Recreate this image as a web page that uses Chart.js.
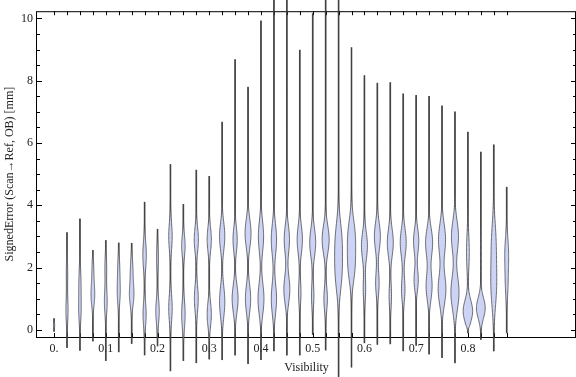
<!DOCTYPE html>
<html>
<head>
<meta charset="utf-8">
<script src="https://cdn.jsdelivr.net/npm/chart.js@4.4.1/dist/chart.umd.min.js"></script>
<style>
  html, body { margin: 0; padding: 0; background: #fff; }
  #wrap { width: 576px; height: 377px; }
</style>
</head>
<body>
<div id="wrap"><canvas id="chart"></canvas></div>
<script>
// one violin per visibility bin
const visibility = [0, 0.025, 0.05, 0.075, 0.1, 0.125, 0.15, 0.175, 0.2, 0.225, 0.25, 0.275,
                    0.3, 0.325, 0.35, 0.375, 0.4, 0.425, 0.45, 0.475, 0.5, 0.525, 0.55, 0.575,
                    0.6, 0.625, 0.65, 0.675, 0.7, 0.725, 0.75, 0.775, 0.8, 0.825, 0.85, 0.875];
const errMin = [-0.05, -0.57, -0.66, -0.36, -0.99, -0.71, -0.44, -0.81, -0.52, -1.32, -0.99, -1.06,
                -0.94, -0.96, -0.81, -1.09, -0.96, -0.68, -0.81, -0.81, -0.15, -0.65, -1.5, -1.2,
                -0.42, -0.47, -0.45, -0.68, -0.5, -0.78, -0.89, -1.06, -0.1, -0.31, -0.68, -0.1];
const errMax = [0.36, 3.12, 3.56, 2.55, 2.87, 2.79, 2.78, 4.10, 3.23, 5.31, 4.03, 5.13,
                4.93, 6.67, 8.68, 7.79, 9.92, 10.6, 10.6, 8.98, 10.15, 10.6, 10.6, 9.06,
                8.16, 7.92, 7.94, 7.58, 7.53, 7.5, 7.19, 7.0, 6.35, 5.71, 5.94, 4.58];

// upper and lower bulge of each violin: centre, relative density, spread
const upperAt = [0.2, 1.8, 1.5, 1.9, 2.0, 2.0, 1.9, 2.4, 2.3, 3.0, 2.7, 2.9,
                 2.9, 3.0, 2.9, 3.1, 3.0, 2.9, 2.9, 2.9, 2.8, 2.9, 2.9, 3.0,
                 2.7, 3.0, 2.8, 2.8, 2.85, 2.8, 2.9, 3.0, 2.5, 2.5, 2.8, 2.5];
const upperDensity = [0.1, 0.2, 0.3, 0.25, 0.25, 0.25, 0.35, 0.5, 0.25, 0.5, 0.5, 0.6,
                      0.6, 0.75, 0.6, 0.85, 0.75, 0.75, 0.75, 0.75, 0.85, 1.0, 0.85, 1.0,
                      0.85, 0.85, 0.85, 0.85, 0.75, 1.0, 1.0, 1.0, 0.4, 0.1, 0.6, 0.5];
const upperSpread = [0.2, 0.5, 0.5, 0.4, 0.4, 0.4, 0.4, 0.45, 0.4, 0.45, 0.35, 0.4,
                     0.4, 0.45, 0.4, 0.45, 0.5, 0.5, 0.45, 0.45, 0.45, 0.45, 0.6, 0.55,
                     0.45, 0.45, 0.45, 0.45, 0.4, 0.45, 0.5, 0.5, 0.6, 0.5, 0.7, 0.5];
const lowerAt = [0.1, 0.6, 0.6, 1.1, 0.9, 1.2, 1.1, 0.5, 0.6, 0.7, 0.5, 1.0,
                 0.5, 0.9, 1.0, 1.0, 1.0, 1.0, 1.3, 1.2, 1.1, 1.0, 1.8, 2.0,
                 1.3, 1.5, 1.1, 1.3, 1.6, 1.4, 1.3, 1.2, 0.6, 0.7, 1.4, 1.5];
const lowerDensity = [0.15, 0.3, 0.3, 0.5, 0.4, 0.4, 0.6, 0.45, 0.5, 0.5, 0.5, 0.55,
                      0.6, 0.75, 0.85, 0.75, 0.85, 0.75, 0.85, 0.35, 0.35, 0.5, 0.85, 0.85,
                      0.35, 0.5, 0.35, 0.5, 0.6, 0.85, 1.1, 1.15, 1.35, 1.25, 0.75, 0.35];
const lowerSpread = [0.15, 0.4, 0.4, 0.35, 0.4, 0.4, 0.35, 0.4, 0.4, 0.45, 0.45, 0.45,
                     0.4, 0.5, 0.45, 0.45, 0.5, 0.5, 0.45, 0.4, 0.4, 0.4, 0.6, 0.5,
                     0.4, 0.4, 0.4, 0.4, 0.35, 0.45, 0.5, 0.55, 0.35, 0.33, 0.7, 0.5];

const xTickLabels = [0, 0.1, 0.2, 0.3, 0.4, 0.5, 0.6, 0.7, 0.8];
const yTickLabels = [0, 2, 4, 6, 8, 10];
const yMinorTicks = [0, 0.5, 1, 1.5, 2, 2.5, 3, 3.5, 4, 4.5, 5, 5.5, 6, 6.5, 7, 7.5, 8, 8.5, 9, 9.5, 10];

const VIOLIN_WIDTH = 0.0068;   // x units per unit of density
const serif = "'Liberation Serif', 'DejaVu Serif', serif";

function bump(e, at, dens, spread) {
    const z = (e - at) / spread;
    return dens * Math.exp(-0.5 * z * z);
}

const violinPlugin = {
    id: 'violins',
    beforeDatasetsDraw(chart) {
        const ctx = chart.ctx, ca = chart.chartArea;
        const x = chart.scales.x, y = chart.scales.y;
        ctx.save();
        ctx.strokeStyle = '#000';
        ctx.lineWidth = 1;
        ctx.strokeRect(ca.left - 0.5, ca.top + 0.5, ca.right - ca.left, ca.bottom - ca.top);
        ctx.beginPath();
        yMinorTicks.forEach(v => {
            const py = Math.round(y.getPixelForValue(v)) + 0.5;
            const len = yTickLabels.includes(v) ? 5 : 3;
            ctx.moveTo(ca.left, py); ctx.lineTo(ca.left + len, py);
            ctx.moveTo(ca.right, py); ctx.lineTo(ca.right - len, py);
        });
        visibility.forEach(v => {
            const px = Math.round(x.getPixelForValue(v)) + 0.5;
            ctx.moveTo(px, ca.bottom); ctx.lineTo(px, ca.bottom - 4);
            ctx.moveTo(px, ca.top); ctx.lineTo(px, ca.top + 4);
        });
        ctx.stroke();
        ctx.restore();
    },
    afterDatasetsDraw(chart) {
        const ctx = chart.ctx;
        const x = chart.scales.x, y = chart.scales.y;
        ctx.save();
        ctx.fillStyle = 'rgb(204,211,245)';
        ctx.strokeStyle = 'rgba(60,60,60,0.8)';
        ctx.lineWidth = 0.9;
        visibility.forEach((v, i) => {
            const lo = errMin[i], hi = errMax[i];
            const steps = 160;
            const left = [], right = [];
            for (let k = 0; k <= steps; k++) {
                const e = lo + (hi - lo) * k / steps;
                const taper = Math.min(1, (e - lo) / 0.25, (hi - e) / 0.25);
                const d = (bump(e, upperAt[i], upperDensity[i], upperSpread[i]) +
                           bump(e, lowerAt[i], lowerDensity[i], lowerSpread[i])) * taper;
                const py = y.getPixelForValue(e);
                left.push([x.getPixelForValue(v - d * VIOLIN_WIDTH), py]);
                right.push([x.getPixelForValue(v + d * VIOLIN_WIDTH), py]);
            }
            ctx.beginPath();
            ctx.moveTo(left[0][0], left[0][1]);
            left.forEach(p => ctx.lineTo(p[0], p[1]));
            for (let k = right.length - 1; k >= 0; k--) ctx.lineTo(right[k][0], right[k][1]);
            ctx.closePath();
            ctx.fill();
            ctx.stroke();
        });
        ctx.restore();
    }
};

Chart.defaults.font.family = serif;
Chart.defaults.font.size = 12;
Chart.defaults.color = '#222';

new Chart(document.getElementById('chart'), {
    type: 'bar',
    data: {
        datasets: [{
            data: visibility.map((v, i) => ({x: v, y: [errMin[i], errMax[i]]})),
            backgroundColor: 'rgba(50,50,50,0.75)',
            borderWidth: 0,
            barThickness: 1,
            clip: false
        }]
    },
    options: {
        responsive: true,
        maintainAspectRatio: false,
        animation: false,
        layout: {padding: {top: 4, right: 0, left: 0, bottom: 0}},
        plugins: {legend: {display: false}, tooltip: {enabled: false}},
        scales: {
            x: {
                type: 'linear',
                min: -0.033,
                max: 1.009,
                offset: false,
                grid: {display: false, drawTicks: false, offset: false},
                border: {display: false},
                afterBuildTicks: s => { s.ticks = xTickLabels.map(v => ({value: v})); },
                afterFit: s => { s.height = 40; },
                ticks: {
                    autoSkip: false,
                    maxRotation: 0,
                    padding: 5,
                    callback: v => v === 0 ? '0.' : v.toFixed(1)
                },
                title: {display: true, text: 'Visibility', padding: {top: 0, bottom: 2}}
            },
            y: {
                min: -0.23,
                max: 10.23,
                grid: {display: false, drawTicks: false},
                border: {display: false},
                afterBuildTicks: s => { s.ticks = yTickLabels.map(v => ({value: v})); },
                afterFit: s => { s.width = 37; },
                ticks: {padding: 4},
                title: {display: true, text: 'SignedError (Scan\u2192Ref, OB) [mm]', padding: {top: 3, bottom: 0}}
            }
        }
    },
    plugins: [violinPlugin]
});
</script>
</body>
</html>
